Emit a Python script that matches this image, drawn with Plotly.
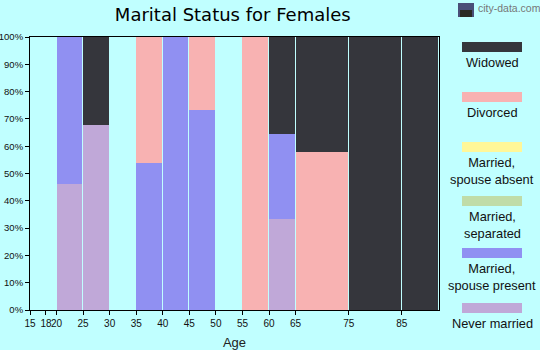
import plotly.graph_objects as go

# Age bin edges (years); the last bin is open-ended (85+)
age_edges = [15, 18, 20, 25, 30, 35, 40, 45, 50, 55, 60, 65, 75, 85, 92]
age_ticks = [15, 18, 20, 25, 30, 35, 40, 45, 50, 55, 60, 65, 75, 85]

# Share of females in each marital status per age bin (%)
never_married = [0, 0, 46.2, 67.8, 0, 0, 0, 0, 0, 0, 33.3, 0, 0, 0]
spouse_present = [0, 0, 53.8, 0, 0, 54.0, 100, 73.3, 0, 0, 31.2, 0, 0, 0]
separated = [0, 0, 0, 0, 0, 0, 0, 0, 0, 0, 0, 0, 0, 0]
spouse_absent = [0, 0, 0, 0, 0, 0, 0, 0, 0, 0, 0, 0, 0, 0]
divorced = [0, 0, 0, 0, 0, 46.0, 0, 26.7, 0, 100, 0, 57.9, 0, 0]
widowed = [0, 0, 0, 32.2, 0, 0, 0, 0, 0, 0, 35.5, 42.1, 100, 100]

series = [
    ("Never married", never_married, "#c0a8d8"),
    ("Married,<br>spouse present", spouse_present, "#9090f2"),
    ("Married,<br>separated", separated, "#c0dca8"),
    ("Married,<br>spouse absent", spouse_absent, "#fff799"),
    ("Divorced", divorced, "#f8b2b2"),
    ("Widowed", widowed, "#35363c"),
]

BG = "#c0ffff"
L, R, T, B = 30, 101, 37, 40
PW, PH = 540 - L - R, 350 - T - B

def px_x(x):
    return (x - L) / PW

def px_y(y):
    return (350 - B - y) / PH

lefts = age_edges[:-1]
widths = [b - a - 0.18 for a, b in zip(age_edges[:-1], age_edges[1:])]

fig = go.Figure()
for name, vals, color in series:
    fig.add_trace(go.Bar(
        x=lefts, y=[v if v > 0 else None for v in vals],
        width=widths, offset=0, name=name,
        marker=dict(color=color, line=dict(width=0)),
        showlegend=False, hoverinfo="skip",
    ))

fig.update_layout(
    width=540, height=350,
    barmode="stack",
    paper_bgcolor=BG, plot_bgcolor=BG,
    margin=dict(l=L, r=R, t=T, b=B, autoexpand=False),
    font=dict(family="Liberation Sans, Arial", size=10, color="#111"),
    title=dict(text="Marital Status for Females", x=px_x(117), xanchor="left",
               y=1 - 15 / 350, yanchor="middle",
               font=dict(family="DejaVu Sans, Verdana", size=18, color="#000")),
)
fig.update_xaxes(
    range=[age_edges[0], age_edges[-1]], tickvals=age_ticks, tickangle=0,
    automargin=False,
    ticks="outside", ticklen=4, tickcolor="#000",
    showline=True, linecolor="#000", linewidth=1, mirror=True,
    showgrid=False, zeroline=False,
    title=dict(text="Age", standoff=11,
               font=dict(family="Liberation Sans, Arial", size=13, color="#222")),
)
fig.update_yaxes(
    range=[0, 100], tickvals=list(range(0, 101, 10)),
    ticktext=[f"{v}%" for v in range(0, 101, 10)],
    tickfont=dict(size=9.5),
    automargin=False,
    ticks="outside", ticklen=4, tickcolor="#000",
    showline=True, linecolor="#000", linewidth=1, mirror=True,
    showgrid=False, zeroline=False,
)

# Legend drawn as swatches with captions underneath
legend_items = [
    ("Widowed", "#35363c", 42),
    ("Divorced", "#f8b2b2", 92),
    ("Married,<br>spouse absent", "#fff799", 142),
    ("Married,<br>separated", "#c0dca8", 196),
    ("Married,<br>spouse present", "#9090f2", 248),
    ("Never married", "#c0a8d8", 303),
]
for label, color, top in legend_items:
    fig.add_shape(type="rect", xref="paper", yref="paper",
                  x0=px_x(462), x1=px_x(522),
                  y0=px_y(top + 10), y1=px_y(top),
                  fillcolor=color, line=dict(width=0))
    fig.add_annotation(xref="paper", yref="paper",
                       x=px_x(492), y=px_y(top + 11),
                       xanchor="center", yanchor="top", showarrow=False,
                       text=label, align="center",
                       font=dict(family="Liberation Sans, Arial", size=12.8, color="#111"))

# city-data.com mark
fig.add_shape(type="rect", xref="paper", yref="paper",
              x0=px_x(458), x1=px_x(474), y0=px_y(17), y1=px_y(3),
              fillcolor="#4a4f78", line=dict(width=0))
fig.add_shape(type="rect", xref="paper", yref="paper",
              x0=px_x(460), x1=px_x(472), y0=px_y(17), y1=px_y(10),
              fillcolor="#2c2a24", line=dict(width=0))
fig.add_annotation(xref="paper", yref="paper",
                   x=px_x(476), y=px_y(8),
                   xanchor="left", yanchor="middle", showarrow=False,
                   text="city-data.com",
                   font=dict(family="Liberation Sans, Arial", size=10.5, color="#777"))

fig.write_html("out.html")
